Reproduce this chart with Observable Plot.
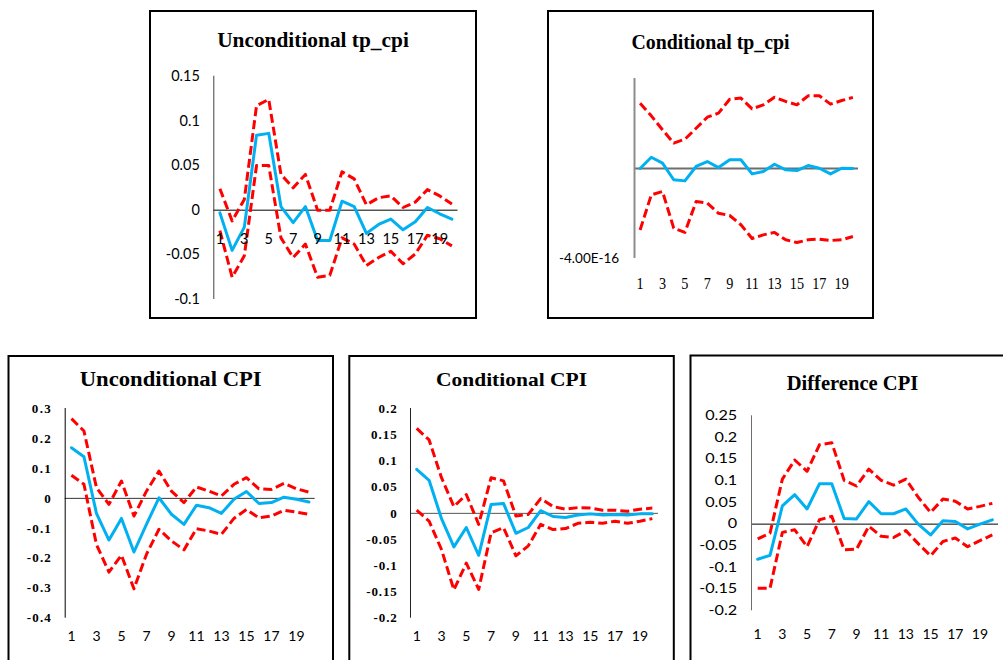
<!DOCTYPE html>
<html><head><meta charset="utf-8">
<script src="https://cdn.jsdelivr.net/npm/d3@7"></script>
<script src="https://cdn.jsdelivr.net/npm/@observablehq/plot@0.6"></script>
<style>
body{margin:0;background:#fff;}
#wrap{position:relative;width:1003px;height:660px;overflow:hidden;background:#fff;}
#wrap svg{position:absolute;left:0;top:0;}
</style></head><body><div id="wrap"></div>
<script>
// ---- data ----
const periods = [1,2,3,4,5,6,7,8,9,10,11,12,13,14,15,16,17,18,19,20];
const xTickLabels = [1,3,5,7,9,11,13,15,17,19];

// Unconditional tp_cpi
const uTpMid = [-0.003,-0.045,-0.019,0.084,0.086,0.004,-0.014,0.004,-0.034,-0.034,0.010,0.004,-0.026,-0.016,-0.010,-0.022,-0.013,0.003,-0.004,-0.010];
const uTpUp  = [0.024,-0.012,0.012,0.117,0.124,0.040,0.025,0.040,0.000,0.000,0.043,0.035,0.006,0.014,0.016,0.003,0.009,0.023,0.016,0.007];
const uTpLo  = [-0.023,-0.075,-0.051,0.050,0.050,-0.031,-0.053,-0.038,-0.075,-0.073,-0.031,-0.038,-0.062,-0.053,-0.046,-0.060,-0.049,-0.028,-0.032,-0.040];
const uTpYTicks = [0.15,0.1,0.05,0,-0.05,-0.1];

// Conditional tp_cpi
const cTpMid = [0,0.50e-16,0.24e-16,-0.50e-16,-0.55e-16,0.09e-16,0.31e-16,0.04e-16,0.39e-16,0.39e-16,-0.24e-16,-0.13e-16,0.19e-16,-0.06e-16,-0.09e-16,0.13e-16,0.01e-16,-0.24e-16,0.01e-16,0];
const cTpUp  = [2.90e-16,2.34e-16,1.72e-16,1.13e-16,1.30e-16,1.79e-16,2.28e-16,2.46e-16,3.08e-16,3.13e-16,2.65e-16,2.83e-16,3.17e-16,2.98e-16,2.83e-16,3.23e-16,3.23e-16,2.86e-16,3.02e-16,3.16e-16];
const cTpLo  = [-2.73e-16,-1.17e-16,-1.02e-16,-2.65e-16,-2.84e-16,-1.47e-16,-1.54e-16,-1.99e-16,-2.09e-16,-2.50e-16,-3.11e-16,-2.95e-16,-2.84e-16,-3.17e-16,-3.29e-16,-3.17e-16,-3.14e-16,-3.20e-16,-3.17e-16,-3.02e-16];
const cTpYTicks = [-4e-16];
const cTpYLabels = ["-4.00E-16"];

// Unconditional CPI
const uCpiMid = [0.169,0.139,-0.050,-0.139,-0.067,-0.179,-0.087,0.002,-0.053,-0.087,-0.023,-0.031,-0.050,-0.003,0.023,-0.017,-0.014,0.004,-0.003,-0.012];
const uCpiUp  = [0.266,0.225,0.036,-0.020,0.058,-0.059,0.024,0.091,0.024,-0.014,0.038,0.024,0.008,0.047,0.069,0.032,0.030,0.050,0.032,0.021];
const uCpiLo  = [0.077,0.047,-0.154,-0.246,-0.190,-0.302,-0.187,-0.103,-0.142,-0.172,-0.101,-0.109,-0.120,-0.067,-0.037,-0.065,-0.059,-0.040,-0.046,-0.053];
const uCpiYTicks = [0.3,0.2,0.1,0,-0.1,-0.2,-0.3,-0.4];

// Conditional CPI
const cCpiMid = [0.084,0.063,-0.010,-0.064,-0.027,-0.080,0.017,0.019,-0.038,-0.027,0.005,-0.006,-0.008,-0.003,-0.001,-0.003,-0.002,-0.003,-0.001,-0.001];
const cCpiUp  = [0.162,0.140,0.068,0.013,0.036,-0.021,0.068,0.062,-0.005,-0.002,0.028,0.013,0.008,0.011,0.010,0.006,0.006,0.004,0.008,0.010];
const cCpiLo  = [0.006,-0.015,-0.069,-0.146,-0.095,-0.145,-0.037,-0.027,-0.081,-0.062,-0.021,-0.031,-0.029,-0.019,-0.017,-0.019,-0.015,-0.019,-0.015,-0.010];
const cCpiYTicks = [0.2,0.15,0.1,0.05,0,-0.05,-0.1,-0.15,-0.2];

// Difference CPI
const dCpiMid = [-0.081,-0.072,0.042,0.068,0.035,0.093,0.093,0.013,0.012,0.052,0.024,0.024,0.035,0.000,-0.025,0.008,0.006,-0.011,0.000,0.010];
const dCpiUp  = [-0.034,-0.021,0.104,0.148,0.122,0.183,0.188,0.101,0.088,0.127,0.101,0.090,0.104,0.062,0.027,0.058,0.053,0.035,0.041,0.048];
const dCpiLo  = [-0.148,-0.148,-0.019,-0.013,-0.052,0.010,0.018,-0.059,-0.058,-0.005,-0.028,-0.031,-0.015,-0.045,-0.073,-0.040,-0.032,-0.052,-0.038,-0.025];
const dCpiYTicks = [0.25,0.2,0.15,0.1,0.05,0,-0.05,-0.1,-0.15,-0.2];

// ---- layout ----
const W = 1003, H = 660;
const BLUE = "#00B0F0", RED = "#FF0000";
const SANS = "Lato, 'Liberation Sans', sans-serif";
const SERIF = "'Liberation Serif', 'Times New Roman', serif";

const panels = [
  {title:"Unconditional tp_cpi", box:[150,11,326,307], tx:313, ty:46.7, tsize:21, tlen:191.7,
   frame:[213.3,457.5,75.7,299], yDomain:[-0.1,0.15], mid:uTpMid, up:uTpUp, lo:uTpLo,
   yTicks:uTpYTicks, yLabels:uTpYTicks.map(String), yPad:14, yFont:SANS, ySize:14.5, yWeight:"normal", yK:1, yAdj:"spacingAndGlyphs",
   xMode:"zero", xDy:28.7, xFont:SANS, xSize:14.5, xK:1,
   axisColor:"#404040", axisW:1, zeroColor:"#000", zeroW:1},
  {title:"Conditional tp_cpi", box:[548,11,325,307], tx:710.5, ty:49.3, tsize:21.6, tlen:158,
   frame:[634,858,78,258], yDomain:[-4e-16,4e-16], mid:cTpMid, up:cTpUp, lo:cTpLo,
   yTicks:cTpYTicks, yLabels:cTpYLabels, yPad:15.3, yFont:SANS, ySize:13.5, yWeight:"normal", yK:1, yAdj:"spacingAndGlyphs",
   xMode:"bottom", xDy:30, xFont:SERIF, xSize:16.5, xK:0.86,
   axisColor:"#8c8c8c", axisW:2, zeroColor:"#6e6e6e", zeroW:2},
  {title:"Unconditional CPI", box:[8.5,356,324.5,320], tx:170.7, ty:386, tsize:20.5, tlen:182,
   frame:[64.7,314.7,408,617.7], yDomain:[-0.4,0.3], mid:uCpiMid, up:uCpiUp, lo:uCpiLo,
   yTicks:uCpiYTicks, yLabels:uCpiYTicks.map(String), yPad:14.4, yFont:SERIF, ySize:13, yWeight:"bold", yK:1.17, yAdj:"spacing",
   xMode:"bottom", xDy:22.3, xFont:SANS, xSize:14, xK:1,
   axisColor:"#000", axisW:1, zeroColor:"#333", zeroW:1},
  {title:"Conditional CPI", box:[349.3,356,324.5,320], tx:511.5, ty:386, tsize:19.5, tlen:151,
   frame:[410,658,408,617.7], yDomain:[-0.2,0.2], mid:cCpiMid, up:cCpiUp, lo:cCpiLo,
   yTicks:cCpiYTicks, yLabels:cCpiYTicks.map(String), yPad:13.7, yFont:SERIF, ySize:13, yWeight:"bold", yK:1.13, yAdj:"spacing",
   xMode:"bottom", xDy:22.6, xFont:SANS, xSize:14, xK:1,
   axisColor:"#222", axisW:1, zeroColor:"#555", zeroW:1},
  {title:"Difference CPI", box:[690.5,355.5,330,320], tx:852.5, ty:389.7, tsize:20, tlen:131.6,
   frame:[751,998,415.3,610.3], yDomain:[-0.2,0.25], mid:dCpiMid, up:dCpiUp, lo:dCpiLo,
   yTicks:dCpiYTicks, yLabels:dCpiYTicks.map(String), yPad:14.3, yFont:SANS, ySize:13.5, yWeight:"normal", yK:1.2, yAdj:"spacingAndGlyphs",
   xMode:"bottom", xDy:27.7, xFont:SANS, xSize:14, xK:1,
   axisColor:"#6e6e6e", axisW:1, zeroColor:"#000", zeroW:1}
];

const wrap = document.getElementById("wrap");

function series(arr) { return periods.map((t, i) => ({t, v: arr[i]})); }

function stretch(group, k, mode) {
  if (k === 1) return;
  d3.select(group).selectAll("text").each(function() {
    const len = this.getComputedTextLength();
    this.setAttribute("textLength", len * k);
    this.setAttribute("lengthAdjust", mode);
  });
}

for (const p of panels) {
  const [fl, fr, ft, fb] = p.frame;
  const xText = p.xMode === "zero"
    ? Plot.text(xTickLabels, {x: d => d, y: 0, dy: p.xDy, text: d => String(d), fontFamily: p.xFont, fontSize: p.xSize, fill: "#000"})
    : Plot.text(xTickLabels, {x: d => d, frameAnchor: "bottom", dy: p.xDy, text: d => String(d), fontFamily: p.xFont, fontSize: p.xSize, fill: "#000"});
  const chart = Plot.plot({
    width: W, height: H,
    marginLeft: fl, marginRight: W - fr, marginTop: ft, marginBottom: H - fb,
    x: {domain: [0.5, 20.5], axis: null},
    y: {domain: p.yDomain, axis: null},
    style: {background: "transparent", overflow: "visible"},
    marks: [
      Plot.ruleY([0], {stroke: p.zeroColor, strokeWidth: p.zeroW}),
      Plot.ruleX([0.5], {stroke: p.axisColor, strokeWidth: p.axisW}),
      Plot.line(series(p.up), {x: "t", y: "v", stroke: RED, strokeWidth: 3, strokeDasharray: "9,4", strokeLinecap: "butt", strokeLinejoin: "round"}),
      Plot.line(series(p.lo), {x: "t", y: "v", stroke: RED, strokeWidth: 3, strokeDasharray: "9,4", strokeLinecap: "butt", strokeLinejoin: "round"}),
      Plot.line(series(p.mid), {x: "t", y: "v", stroke: BLUE, strokeWidth: 3, strokeLinejoin: "round"}),
      Plot.text(p.yTicks, {y: d => d, text: (d, i) => p.yLabels[i], frameAnchor: "left", textAnchor: "end", dx: -p.yPad,
        fontFamily: p.yFont, fontSize: p.ySize, fontWeight: p.yWeight, fill: "#000"}),
      xText
    ]
  });
  wrap.appendChild(chart);
  const groups = chart.querySelectorAll('g[aria-label="text"]');
  stretch(groups[0], p.yK, p.yAdj);
  stretch(groups[1], p.xK, "spacingAndGlyphs");
}

// boxes and titles
const over = d3.select(wrap).append("svg").attr("width", W).attr("height", H).style("pointer-events", "none");
for (const p of panels) {
  const [bx, by, bw, bh] = p.box;
  over.append("rect").attr("x", bx).attr("y", by).attr("width", bw).attr("height", bh)
    .attr("fill", "none").attr("stroke", "#000").attr("stroke-width", 2);
  over.append("text").attr("x", p.tx).attr("y", p.ty).attr("text-anchor", "middle")
    .attr("font-family", SERIF).attr("font-weight", "bold").attr("font-size", p.tsize)
    .attr("textLength", p.tlen).attr("lengthAdjust", "spacingAndGlyphs").text(p.title);
}
</script></body></html>
